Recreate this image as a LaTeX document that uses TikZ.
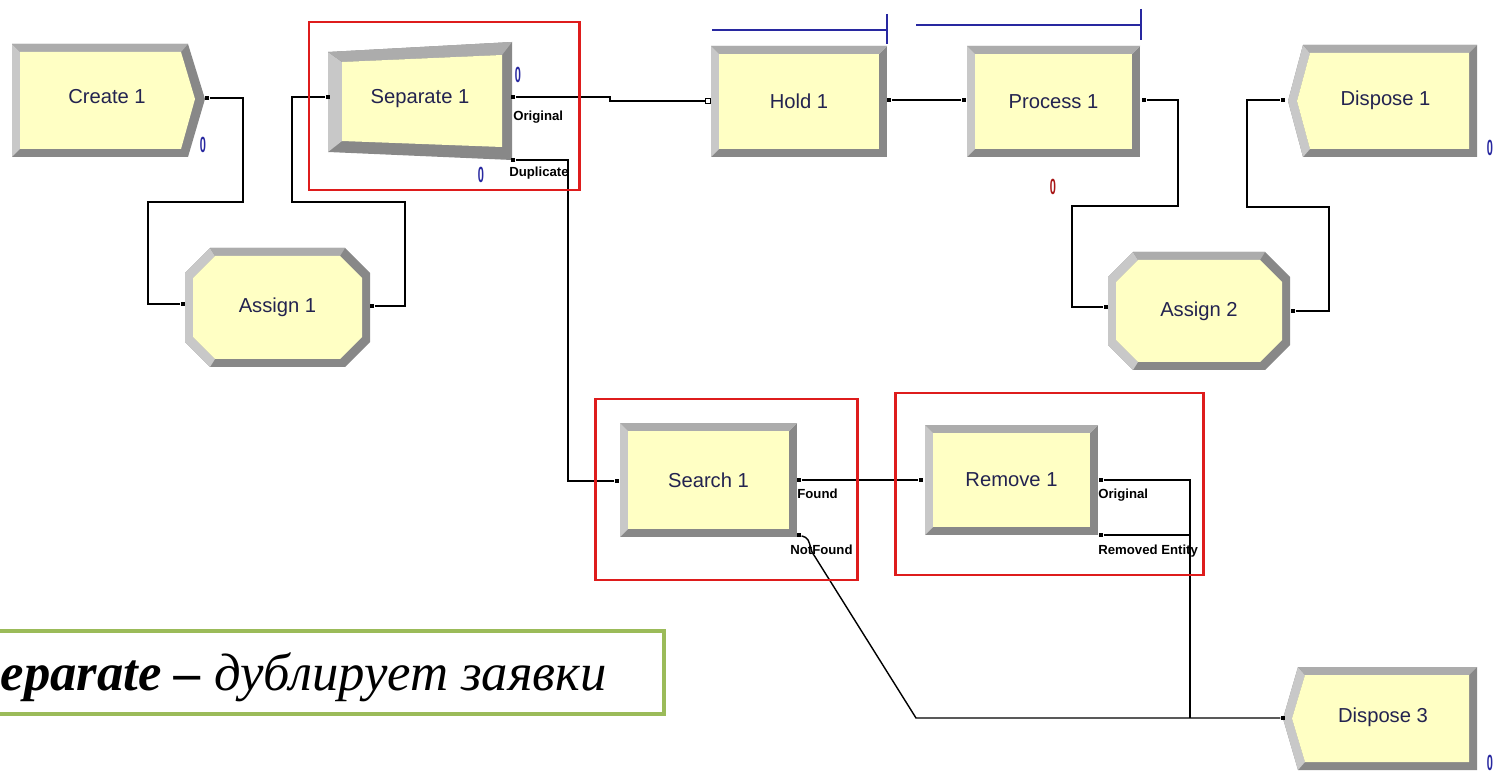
\documentclass[tikz,border=0pt]{standalone}
\usepackage{fontspec}
\setmainfont{Liberation Serif}
\setsansfont{Liberation Sans}
\usepackage{tikz}
\usetikzlibrary{calc}

\definecolor{modyellow}{RGB}{255,255,196}
\definecolor{bevlight}{RGB}{200,200,200}
\definecolor{bevmid}{RGB}{172,172,172}
\definecolor{bevdark}{RGB}{136,136,136}
\definecolor{labelnavy}{RGB}{35,35,80}
\definecolor{queueblue}{RGB}{40,40,160}
\definecolor{framered}{RGB}{222,28,28}
\definecolor{notegreen}{RGB}{155,187,89}

\tikzset{
  modlabel/.style={font=\sffamily\fontsize{11.5}{13}\selectfont, text=labelnavy, inner sep=0pt},
  portlabel/.style={font=\sffamily\bfseries\fontsize{7.5}{8}\selectfont, anchor=north west, inner sep=0pt},
  port/.style={fill=black, minimum size=0.09cm, inner sep=0pt},
  openport/.style={draw=black, fill=white, line width=0.4pt, minimum size=0.09cm, inner sep=0pt},
  conn/.style={line width=0.8pt},
  counter/.style={font=\sffamily\bfseries\fontsize{12.5}{12.5}\selectfont, text=queueblue, inner sep=0pt, xscale=0.5},
  redframe/.style={draw=framered, line width=1.7pt},
  queue/.style={draw=queueblue, line width=0.8pt},
}

% rectangular module: name, x1, y1, x2, y2, text
\newcommand{\rectmodule}[6]{%
  \fill[bevdark] (#2,#3) rectangle (#4,#5);
  \fill[bevlight] (#2,#3) -- (#4,#3) -- (#4-8,#3+8) -- (#2+8,#3+8) -- (#2+8,#5-8) -- (#2,#5) -- cycle;
  \fill[bevmid] (#2,#3) -- (#4,#3) -- (#4-8,#3+8) -- (#2+8,#3+8) -- cycle;
  \fill[modyellow] (#2+8,#3+8) rectangle (#4-8,#5-8);
  \node[modlabel] (#1) at ({(#2+#4)/2},{(#3+#5)/2}) {#6};
}

% octagonal module (Assign)
\newcommand{\octmodule}[6]{%
  \fill[bevdark] (#2+25,#3) -- (#4-25,#3) -- (#4,#3+25) -- (#4,#5-25) -- (#4-25,#5) -- (#2+25,#5) -- (#2,#5-25) -- (#2,#3+25) -- cycle;
  \fill[bevlight] (#2+25,#3) -- (#2,#3+25) -- (#2,#5-25) -- (#2+25,#5) -- (#2+30,#5-8) -- (#2+8,#5-30) -- (#2+8,#3+30) -- (#2+30,#3+8) -- cycle;
  \fill[bevmid] (#2+25,#3) -- (#4-25,#3) -- (#4-30,#3+8) -- (#2+30,#3+8) -- cycle;
  \fill[modyellow] (#2+30,#3+8) -- (#4-30,#3+8) -- (#4-8,#3+30) -- (#4-8,#5-30) -- (#4-30,#5-8) -- (#2+30,#5-8) -- (#2+8,#5-30) -- (#2+8,#3+30) -- cycle;
  \node[modlabel] (#1) at ({(#2+#4)/2},{(#3+#5)/2}) {#6};
}

% dispose module, pointing left
\newcommand{\dispmodule}[6]{%
  \fill[bevdark] (#2,{(#3+#5)/2}) -- (#2+15,#3) -- (#4,#3) -- (#4,#5) -- (#2+15,#5) -- cycle;
  \fill[bevlight] (#2,{(#3+#5)/2}) -- (#2+15,#3) -- (#2+22,#3+8) -- (#2+9,{(#3+#5)/2}) -- (#2+22,#5-8) -- (#2+15,#5) -- cycle;
  \fill[bevmid] (#2+15,#3) -- (#4,#3) -- (#4-8,#3+8) -- (#2+22,#3+8) -- cycle;
  \fill[modyellow] (#2+9,{(#3+#5)/2}) -- (#2+22,#3+8) -- (#4-8,#3+8) -- (#4-8,#5-8) -- (#2+22,#5-8) -- cycle;
  \node[modlabel] (#1) at ({(#2+#4)/2+3},{(#3+#5)/2-1}) {#6};
}

\begin{document}
\begin{tikzpicture}[x=0.02cm, y=-0.02cm]
    \fill[white] (0,0) rectangle (1494,773);
    \useasboundingbox (0,0) rectangle (1494,773);

    % Create 1
    \fill[bevdark] (12,44) -- (188,44) -- (205,99) -- (188,157) -- (12,157) -- cycle;
    \fill[bevlight] (12,44) -- (20,52) -- (20,149) -- (12,157) -- cycle;
    \fill[bevmid] (12,44) -- (188,44) -- (181,52) -- (20,52) -- cycle;
    \fill[modyellow] (20,52) -- (181,52) -- (195,99) -- (181,149) -- (20,149) -- cycle;
    \node[modlabel] (create) at (107,97) {Create 1};

    % Separate 1
    \fill[bevdark] (328,52) -- (512,42) -- (512,160) -- (328,152) -- cycle;
    \fill[bevlight] (328,52) -- (342,62) -- (342,141) -- (328,152) -- cycle;
    \fill[bevmid] (328,52) -- (512,42) -- (502,55) -- (342,62) -- cycle;
    \fill[modyellow] (342,62) -- (502,55) -- (502,147) -- (342,141) -- cycle;
    \node[modlabel] (separate) at (420,99) {Separate 1};

    % other modules
    \octmodule{assignA}{185}{248}{370}{367}{Assign 1}
    \octmodule{assignB}{1108}{252}{1290}{370}{Assign 2}
    \rectmodule{hold}{711}{46}{887}{157}{Hold 1}
    \rectmodule{process}{967}{46}{1140}{157}{Process 1}
    \rectmodule{search}{620}{423}{797}{537}{Search 1}
    \rectmodule{remove}{925}{425}{1098}{535}{Remove 1}
    \dispmodule{disposeA}{1288}{45}{1477}{157}{Dispose 1}
    \dispmodule{disposeC}{1283}{667}{1477}{770}{Dispose 3}

    % queues
    \draw[queue] (712,30) -- (887,30);
    \draw[queue] (887,14) -- (887,44);
    \draw[queue] (916,25) -- (1141,25);
    \draw[queue] (1141,9) -- (1141,40);

    % counters
    \node[counter] (cntcreate) at (203,145) {0};
    \node[counter] (cntsepA) at (518,75) {0};
    \node[counter] (cntsepB) at (481,175) {0};
    \node[counter, text=framered!75!black] (cntproc) at (1053,187) {0};
    \node[counter] (cntdispA) at (1490,148) {0};
    \node[counter] (cntdispC) at (1490,763) {0};

    % ports
    \node[port] (createout) at (207,98) {};
    \node[port] (sepin) at (328,97) {};
    \node[port] (sepor) at (513,97) {};
    \node[port] (sepdup) at (513,160) {};
    \node[port] (asgAin) at (183,304) {};
    \node[port] (asgAout) at (372,306) {};
    \node[openport] (holdin) at (708,101) {};
    \node[port] (holdout) at (889,100) {};
    \node[port] (procin) at (964,100) {};
    \node[port] (procout) at (1144,100) {};
    \node[port] (asgBin) at (1106,307) {};
    \node[port] (asgBout) at (1293,311) {};
    \node[port] (dispAin) at (1283,100) {};
    \node[port] (srchin) at (617,481) {};
    \node[port] (srchfound) at (799,480) {};
    \node[port] (srchnot) at (799,535) {};
    \node[port] (remin) at (921,480) {};
    \node[port] (remor) at (1101,480) {};
    \node[port] (remrem) at (1101,535) {};
    \node[port] (dispCin) at (1283,718) {};
    \coordinate (join) at (1190,718);

    % port labels
    \node[portlabel] at (513,111) {Original};
    \node[portlabel] at (509,167) {Duplicate};
    \node[portlabel] at (797,489) {Found};
    \node[portlabel] at (790,545) {NotFound};
    \node[portlabel] at (1098,489) {Original};
    \node[portlabel] at (1098,545) {Removed Entity};

    % connectors
    \draw[conn] (createout) -- (243,98) -- (243,202) -- (148,202) |- (asgAin);
    \draw[conn] (asgAout) -| (405,202) -- (292,202) |- (sepin);
    \draw[conn] (sepor) -- (610,97) |- (holdin);
    \draw[conn] (sepdup) -- (568,160) |- (srchin);
    \draw[conn] (holdout) -- (procin);
    \draw[conn] (procout) -- (1178,100) -- (1178,206) -- (1072,206) |- (asgBin);
    \draw[conn] (asgBout) -| (1329,207) -- (1247,207) |- (dispAin);
    \draw[conn] (srchfound) -- (remin);
    \draw[conn] (remor) -| (join);
    \draw[conn] (remrem) -- (1190,535);
    \draw[conn] (srchnot) .. controls (808,538) .. (812,552) -- (916,718) -- (join) -- (dispCin);

    % red frames
    \draw[redframe] (309,22) rectangle (579,190);
    \draw[redframe] (595,399) rectangle (857,580);
    \draw[redframe] (895,393) rectangle (1203,575);

    % note
    \draw[notegreen, line width=2.3pt] (-20,631) rectangle (664,714);
    \node[anchor=base east, inner sep=0pt, font=\fontsize{30}{36}\selectfont\itshape] (note) at (607,690) {\textbf{Separate –} дублирует заявки};

\end{tikzpicture}
\end{document}
